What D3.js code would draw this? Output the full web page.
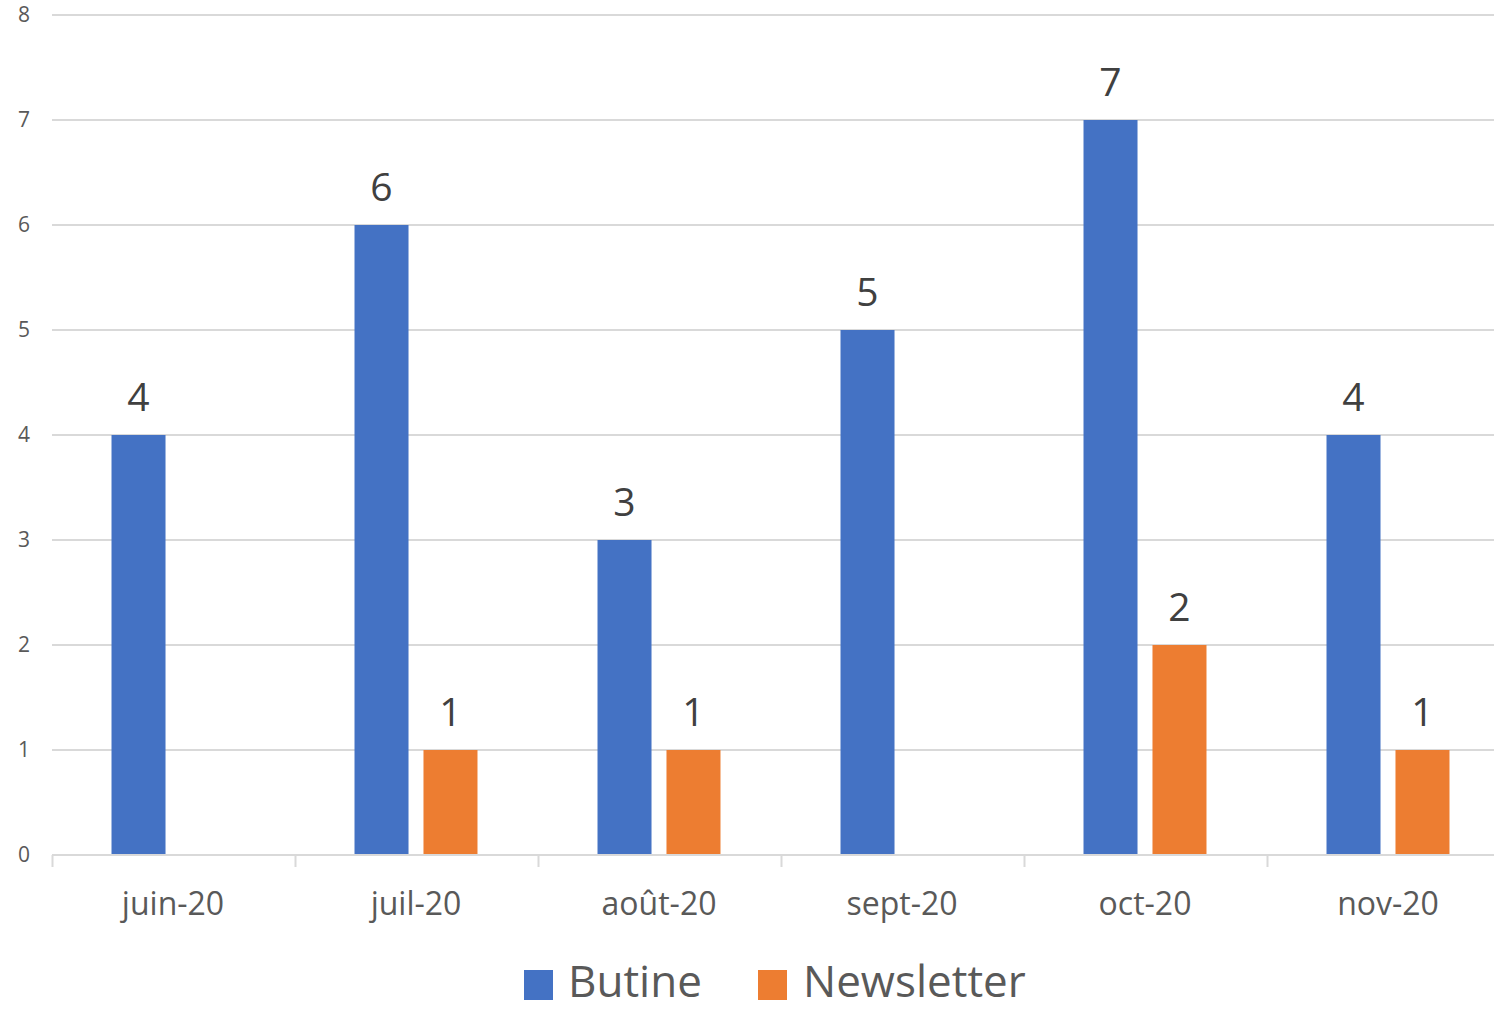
<!DOCTYPE html>
<html>
<head>
<meta charset="utf-8">
<script src="https://cdn.jsdelivr.net/npm/d3@7/dist/d3.min.js"></script>
<style>
  html, body { margin: 0; padding: 0; background: #ffffff; }
  svg { display: block; }
  text { font-family: "Open Sans", "Noto Sans", sans-serif; }
</style>
</head>
<body>
<svg id="chart" width="1494" height="1009"></svg>
<script>
const categories = ["juin-20", "juil-20", "août-20", "sept-20", "oct-20", "nov-20"];
const seriesNames = ["Butine", "Newsletter"];
const butine = [4, 6, 3, 5, 7, 4];
const newsletter = [null, 1, 1, null, 2, 1];
const yTicks = [0, 1, 2, 3, 4, 5, 6, 7, 8];
const colors = ["#4472C4", "#ED7D31"];

const W = 1494, H = 1009;
const svg = d3.select("#chart");

const y = d3.scaleLinear().domain([0, 8]).range([855, 15]);
const x = d3.scaleBand().domain(categories).range([51.5, 1509.5]).paddingInner(0).paddingOuter(0);
const xs = d3.scaleBand().domain(seriesNames).range([0, x.bandwidth()]).paddingInner(0.217).paddingOuter(0.87);

// gridlines
svg.append("g").selectAll("line").data(yTicks.filter(d => d > 0)).join("line")
  .attr("x1", 52).attr("x2", W)
  .attr("y1", d => y(d)).attr("y2", d => y(d))
  .attr("stroke", "#d9d9d9").attr("stroke-width", 2);

// y tick labels
svg.append("g").selectAll("text").data(yTicks).join("text")
  .attr("x", 30).attr("y", d => y(d))
  .attr("dy", "0.35em")
  .attr("text-anchor", "end")
  .attr("font-size", 21)
  .attr("fill", "#595959")
  .text(d => d);

// bars
const data = [];
categories.forEach((c, i) => {
  data.push({cat: c, s: "Butine", v: butine[i], k: 0});
  data.push({cat: c, s: "Newsletter", v: newsletter[i], k: 1});
});
const valid = data.filter(d => d.v !== null);

svg.append("g").selectAll("rect").data(valid).join("rect")
  .attr("x", d => x(d.cat) + xs(d.s))
  .attr("width", xs.bandwidth())
  .attr("y", d => y(d.v))
  .attr("height", d => y(0) - y(d.v))
  .attr("fill", d => colors[d.k]);

// value labels
svg.append("g").selectAll("text").data(valid).join("text")
  .attr("x", d => x(d.cat) + xs(d.s) + xs.bandwidth() / 2)
  .attr("y", d => y(d.v) - 24)
  .attr("text-anchor", "middle")
  .attr("font-size", 39)
  .attr("fill", "#404040")
  .text(d => d.v);

// x axis
const gx = svg.append("g").attr("transform", `translate(0,${y(0)})`);
gx.append("line").attr("x1", 52).attr("x2", W).attr("y1", 0).attr("y2", 0)
  .attr("stroke", "#d9d9d9").attr("stroke-width", 2);
gx.append("g").selectAll("line").data(categories).join("line")
  .attr("x1", d => Math.round(x(d)) + 0.5).attr("x2", d => Math.round(x(d)) + 0.5)
  .attr("y1", 0).attr("y2", 12)
  .attr("stroke", "#d9d9d9").attr("stroke-width", 2);
gx.append("g").selectAll("text").data(categories).join("text")
  .attr("x", d => x(d) + x.bandwidth() / 2)
  .attr("y", 60)
  .attr("text-anchor", "middle")
  .attr("font-size", 32)
  .attr("fill", "#595959")
  .text(d => d);

// legend
const legendItems = [
  {name: seriesNames[0], color: colors[0], sx: 524, tx: 568},
  {name: seriesNames[1], color: colors[1], sx: 758, tx: 803}
];
const lg = svg.append("g");
legendItems.forEach(it => {
  lg.append("rect").attr("x", it.sx).attr("y", 970).attr("width", 29).attr("height", 30).attr("fill", it.color);
  lg.append("text").attr("x", it.tx).attr("y", 997).attr("font-size", 44).attr("fill", "#595959").text(it.name);
});
</script>
</body>
</html>
